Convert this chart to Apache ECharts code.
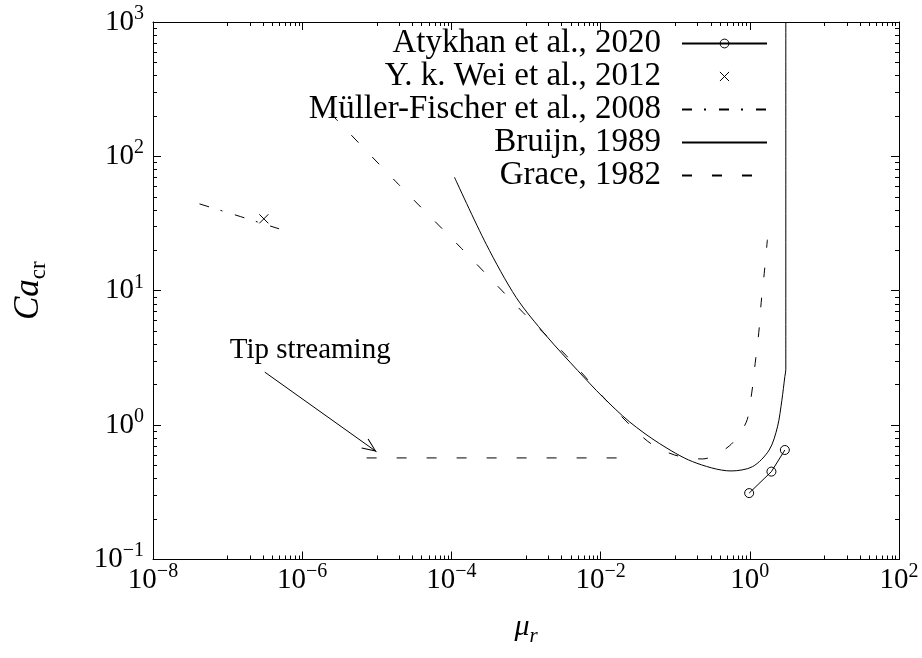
<!DOCTYPE html>
<html><head><meta charset="utf-8">
<script src="https://cdn.jsdelivr.net/npm/echarts@6/dist/echarts.min.js"></script>
<style>html,body{margin:0;padding:0;background:#fff}#c{width:922px;height:658px}</style>
</head><body><div id="c"></div>
<script>
// ---- data ----
const atykhanX = [0.98, 1.95, 2.95];
const atykhanY = [0.312, 0.451, 0.653];
const weiX = [3.06e-7];
const weiY = [34.3];
const mullerX = [4.2e-8, 1.5e-7, 4.9e-7];
const mullerY = [44.3, 35.6, 28.9];
const bruijnX = [1.10e-4, 2.93e-4, 7.4e-4, 1.86e-3, 4.93e-3, 0.0107, 0.0243, 0.0612, 0.171, 0.558, 1.09, 1.82, 2.35, 2.69, 2.95, 3.04, 3.04];
const bruijnY = [69.9, 22.2, 8.9, 4.64, 2.55, 1.62, 1.06, 0.731, 0.535, 0.456, 0.491, 0.653, 0.97, 1.53, 2.3, 2.6, 1000];
const graceX = [2.42e-6, 1.95e-5, 1.36e-4, 9.18e-4, 3.45e-3, 0.0119, 0.0424, 0.0973, 0.231, 0.530, 0.895, 1.06, 1.18, 1.32, 1.42, 1.56, 1.72];
const graceY = [208, 62.0, 20.7, 6.87, 3.30, 1.53, 0.761, 0.600, 0.560, 0.699, 1.05, 1.73, 2.88, 4.89, 8.15, 13.4, 24];
const graceTipX = [7.3e-6, 0.018];
const graceTipY = [0.57, 0.57];
const seriesNames = ['Atykhan et al., 2020', 'Y. k. Wei et al., 2012', 'Müller-Fischer et al., 2008', 'Bruijn, 1989', 'Grace, 1982'];
const xMajorTicks = [1e-8, 1e-6, 1e-4, 1e-2, 1, 100];
const yMajorTicks = [0.1, 1, 10, 100, 1000];
const annotText = 'Tip streaming';
const annotPos = [1.07e-7, 3.6];
const arrowFrom = [3.15e-7, 2.48];
const arrowTo = [9.9e-6, 0.634];

const xMinorTicks = [];
[-8, -6, -4, -2, 0].forEach(k => { for (let m = 1; m <= 9; m++) xMinorTicks.push(+(m * Math.pow(10, k + 1)).toPrecision(3)); });
const yMinorTicks = [];
[-1, 0, 1, 2].forEach(k => { for (let m = 2; m <= 9; m++) yMinorTicks.push(+(m * Math.pow(10, k)).toPrecision(3)); });

const zip = (a, b) => a.map((v, i) => [v, b[i]]);
const FONT = 'Liberation Serif';
const BLACK = '#000';

function supLabel(v) {
  const e = Math.round(Math.log10(v));
  return '{b|10}{s|' + (e < 0 ? '\u2212' + (-e) : String(e)) + '}';
}
const tickRich = {
  b: { fontFamily: FONT, fontSize: 29, lineHeight: 29, color: BLACK, verticalAlign: 'bottom' },
  s: { fontFamily: FONT, fontSize: 20, lineHeight: 20, color: BLACK, verticalAlign: 'bottom', padding: [0, 0, 13, 0] }
};

function xAx(position, major, showLine) {
  return {
    type: 'log', logBase: 10, min: 1e-8, max: 100, position: position,
    gridIndex: 0,
    axisLine: { show: showLine, onZero: false, lineStyle: { color: BLACK, width: 1 } },
    axisTick: { show: true, inside: true, length: major ? 8 : 4, customValues: major ? xMajorTicks : xMinorTicks, lineStyle: { color: BLACK, width: 1 } },
    axisLabel: (major && position === 'bottom') ? { show: true, customValues: xMajorTicks, formatter: supLabel, margin: 6, rich: tickRich } : { show: false },
    splitLine: { show: false }, minorTick: { show: false }
  };
}
function yAx(position, major, showLine) {
  return {
    type: 'log', logBase: 10, min: 0.1, max: 1000, position: position,
    gridIndex: 0,
    axisLine: { show: showLine, onZero: false, lineStyle: { color: BLACK, width: 1 } },
    axisTick: { show: true, inside: true, length: major ? 8 : 4, customValues: major ? yMajorTicks : yMinorTicks, lineStyle: { color: BLACK, width: 1 } },
    axisLabel: (major && position === 'left') ? { show: true, customValues: yMajorTicks, formatter: supLabel, margin: 9, rich: tickRich } : { show: false },
    splitLine: { show: false }, minorTick: { show: false }
  };
}

const xAxes = [xAx('bottom', true, true), xAx('bottom', false, false), xAx('top', true, true), xAx('top', false, false)];
const yAxes = [yAx('left', true, true), yAx('left', false, false), yAx('right', true, true), yAx('right', false, false)];
Object.assign(xAxes[0], {
  name: '{i|\u03bc}{r|r}', nameLocation: 'middle', nameGap: 57,
  nameTextStyle: { rich: {
    i: { fontFamily: FONT, fontStyle: 'italic', fontSize: 30, lineHeight: 30, color: BLACK, verticalAlign: 'bottom', padding: [0, 0, 4, 0] },
    r: { fontFamily: FONT, fontStyle: 'italic', fontSize: 21, lineHeight: 21, color: BLACK, verticalAlign: 'bottom' } } }
});
Object.assign(yAxes[0], {
  name: '{i|Ca}{c|cr}', nameLocation: 'middle', nameGap: 103, nameRotate: 90,
  nameTextStyle: { rich: {
    i: { fontFamily: FONT, fontStyle: 'italic', fontSize: 35, lineHeight: 35, color: BLACK, verticalAlign: 'bottom', padding: [0, 0, 4, 0] },
    c: { fontFamily: FONT, fontSize: 23, lineHeight: 23, color: BLACK, verticalAlign: 'bottom' } } }
});

const crossPath = 'path://M0,0L10,10M10,0L0,10';
const chevron = 'path://M0,-14.4L0,-14.4M0,0L6,14L5,14.4L0,2.4L-5,14.4L-6,14Z';

const option = {
  animation: false,
  backgroundColor: '#fff',
  grid: { left: 153, right: 23, top: 22, bottom: 98.5, containLabel: false, outerBoundsMode: 'none' },
  xAxis: xAxes,
  yAxis: yAxes,
  legend: {
    orient: 'vertical', align: 'right', right: 154, top: 27, padding: 0,
    itemWidth: 85, itemHeight: 11, itemGap: 0,
    textStyle: { fontFamily: FONT, fontSize: 33, lineHeight: 32, color: BLACK, padding: [0, 16, 0, 0] },
    data: [
      { name: seriesNames[0], itemStyle: { color: 'transparent', borderColor: BLACK, borderWidth: 1 } },
      { name: seriesNames[1], icon: 'path://M-1,-1L-1,-1M0,0L10,10M10,0L0,10M11,11L11,11', itemStyle: { color: 'none', borderColor: BLACK, borderWidth: 1 } },
      { name: seriesNames[2], itemStyle: { opacity: 0 } },
      { name: seriesNames[3], itemStyle: { opacity: 0 } },
      { name: seriesNames[4], itemStyle: { opacity: 0 } }
    ],
    selectedMode: false
  },
  series: [
    { name: seriesNames[0], type: 'line', data: zip(atykhanX, atykhanY), symbol: 'circle', symbolSize: 9,
      itemStyle: { color: 'transparent', borderColor: BLACK, borderWidth: 1 }, lineStyle: { color: BLACK, width: 1 }, z: 5 },
    { name: seriesNames[1], type: 'scatter', data: zip(weiX, weiY), symbol: crossPath, symbolSize: 9, symbolKeepAspect: true,
      itemStyle: { color: 'none', borderColor: BLACK, borderWidth: 1, opacity: 1 }, z: 5 },
    { name: seriesNames[2], type: 'line', data: zip(mullerX, mullerY), symbol: 'none',
      lineStyle: { color: BLACK, width: 1, type: [10, 12, 2, 13] } },
    { name: seriesNames[3], type: 'line', data: zip(bruijnX, bruijnY), symbol: 'none', smooth: 0.3,
      lineStyle: { color: BLACK, width: 1, type: 'solid' } },
    { name: seriesNames[4], type: 'line', data: zip(graceX, graceY), symbol: 'none', smooth: 0.3,
      lineStyle: { color: BLACK, width: 1, type: [10, 20] } },
    { name: seriesNames[4], type: 'line', data: zip(graceTipX, graceTipY), symbol: 'none',
      lineStyle: { color: BLACK, width: 1, type: [10, 20] } },
    { name: 'annotation', type: 'line', data: [], symbol: 'none', silent: true,
      markLine: { silent: true, animation: false, symbol: ['none', chevron], symbolSize: [12, 28.8],
        lineStyle: { color: BLACK, width: 1, type: 'solid' }, label: { show: false },
        data: [[{ coord: arrowFrom }, { coord: arrowTo }]] },
      markPoint: { silent: true, symbol: 'circle', symbolSize: 0,
        label: { show: true, position: 'right', distance: 0, formatter: annotText, fontFamily: FONT, fontSize: 29, color: BLACK },
        data: [{ coord: annotPos }] } }
  ]
};
const chart = echarts.init(document.getElementById('c'), null, { renderer: 'canvas' });
chart.setOption(option);
</script>
</body></html>
